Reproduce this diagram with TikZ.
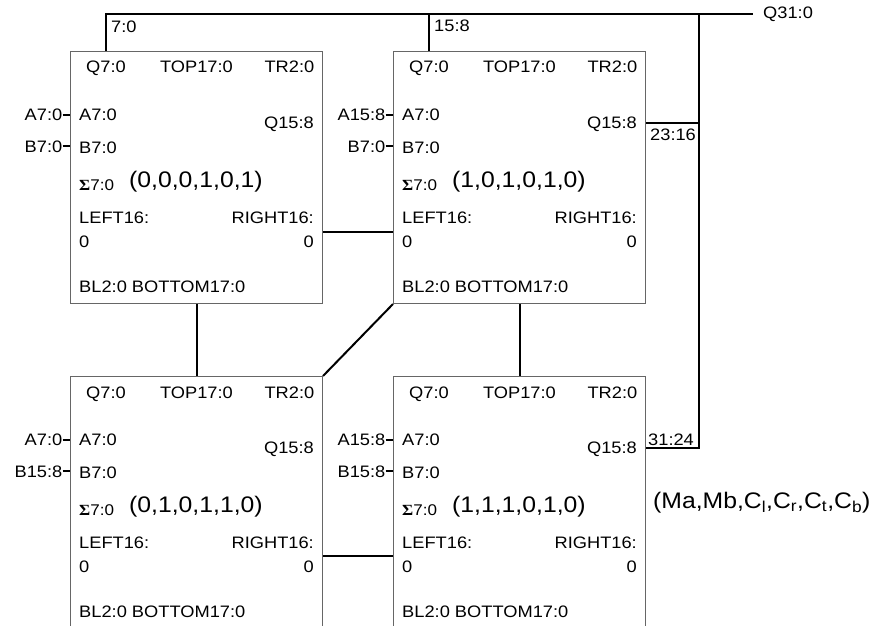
\documentclass[tikz,border=0pt]{standalone}
\usepackage{fontspec}
\setmainfont{Liberation Sans}[FakeStretch=1.1]
\newfontfamily\sigmafont{Liberation Serif}[FakeStretch=1.1]
\usetikzlibrary{positioning, calc}
\tikzstyle{cell} = [
    rectangle,
    minimum width=252pt,
    minimum height=252pt,
    inner sep=0pt,
    draw=black!60,
    line width=1pt
]
\tikzstyle{pin} = [
    inner sep=0pt,
    font=\fontsize{16.6}{19}\selectfont
]
\tikzstyle{tuple} = [
    inner sep=0pt,
    anchor=base west,
    font=\fontsize{22.5}{26}\selectfont
]
\tikzstyle{wire} = [line width=2pt]

\begin{document}
\begin{tikzpicture}[x=1pt, y=-1pt]
\useasboundingbox (0,0) rectangle (870,626);
\clip (0,0) rectangle (870,626);

\node (c1) [cell, anchor=north west] at (70,51) {};
\node (c2) [cell, right=70pt of c1] {};
\node (c3) [cell, below=72pt of c1] {};
\node (c4) [cell, below=72pt of c2] {};

% ports of every cell
\foreach \b/\ta/\tb/\tup in {c1/A7:0/B7:0/{(0,0,0,1,0,1)}, c2/A15:8/B7:0/{(1,0,1,0,1,0)}, c3/A7:0/B15:8/{(0,1,0,1,1,0)}, c4/A15:8/B15:8/{(1,1,1,0,1,0)}} {
    \node (\b-q) [pin, anchor=base] at ($(\b.north west)+(36,22)$) {Q7:0};
    \node (\b-top) [pin, anchor=base] at ($(\b.north)+(0,22)$) {TOP17:0};
    \node (\b-tr) [pin, anchor=base east] at ($(\b.north east)+(-8.5,22)$) {TR2:0};
    \node (\b-a) [pin, anchor=base west] at ($(\b.north west)+(9,69.5)$) {A7:0};
    \node (\b-qo) [pin, anchor=base east] at ($(\b.north east)+(-9,77.5)$) {Q15:8};
    \node (\b-b) [pin, anchor=base west] at ($(\b.north west)+(9,102.5)$) {B7:0};
    \node (\b-sum) [pin, anchor=base west, font=\fontsize{15.5}{18}\selectfont] at ($(\b.north west)+(9,139)$) {{\sigmafont\bfseries Σ}7:0};
    \node (\b-val) [tuple] at ($(\b.north west)+(59,136)$) {\tup};
    \node (\b-l) [pin, anchor=base west] at ($(\b.north west)+(9,172)$) {LEFT16:};
    \node (\b-l0) [pin, anchor=base west] at ($(\b.north west)+(9,196)$) {0};
    \node (\b-r) [pin, anchor=base east] at ($(\b.north east)+(-9,172)$) {RIGHT16:};
    \node (\b-r0) [pin, anchor=base east] at ($(\b.north east)+(-9,196)$) {0};
    \node (\b-bot) [pin, anchor=base west] at ($(\b.north west)+(9,241)$) {BL2:0 BOTTOM17:0};
    % inputs
    \node (\b-ain) [pin, anchor=base east] at ($(\b.north west)+(-7.5,69.5)$) {\ta};
    \node (\b-bin) [pin, anchor=base east] at ($(\b.north west)+(-7.5,101)$) {\tb};
    \draw [wire] (\b-ain.east) -- (\b-ain.east -| \b.west);
    \draw [wire] (\b-bin.east) -- (\b-bin.east -| \b.west);
}

% output bus
\coordinate (tap1) at ($(c1.north west)+(36,0)$);
\coordinate (tap2) at ($(c2.north west)+(36,0)$);
\coordinate (busend) at (753,14.5);
\coordinate (rail) at (699,14.5);
\node (q31) [pin, anchor=west] at ($(busend)+(10,0)$) {Q31:0};

\draw [wire] (tap1) |- (busend);
\draw [wire] (tap2) -- (tap2 |- busend);
\draw [wire] ($(c2.north east)+(0,72)$) -| (rail);
\draw [wire] ($(c4.north east)+(0,72)$) -| (rail);

\node (w1) [pin, anchor=base west] at ($(tap1)+(5,-18)$) {7:0};
\node (w2) [pin, anchor=base west] at ($(tap2)+(5,-19)$) {15:8};
\node (w3) [pin, anchor=base west] at ($(c2.north east)+(4,89)$) {23:16};
\node (w4) [pin, anchor=base west] at ($(c4.north east)+(2,69)$) {31:24};

% links between cells
\draw [wire] (c1) -- (c3);
\draw [wire] (c2) -- (c4);
\draw [wire] (c2.south west) -- (c3.north east);
\draw [wire] ($(c1.north east)+(0,181)$) -- ($(c2.north west)+(0,181)$);
\draw [wire] ($(c3.north east)+(0,180)$) -- ($(c4.north west)+(0,180)$);

\node (legend) [tuple] at (653,508) {(Ma,Mb,C\textsubscript{l},C\textsubscript{r},C\textsubscript{t},C\textsubscript{b})};

\end{tikzpicture}
\end{document}
